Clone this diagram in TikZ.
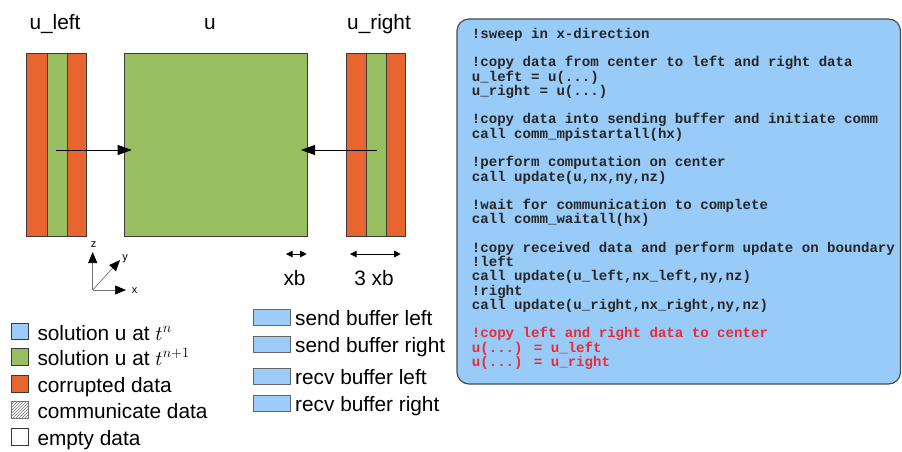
\documentclass[tikz,border=0pt]{standalone}
\usepackage{fontspec}
\setmainfont{Liberation Sans}
\newfontfamily\codefont{Liberation Mono}
\usetikzlibrary{arrows.meta,patterns}
\definecolor{corr}{HTML}{E8652F}
\definecolor{soln}{HTML}{97BF5F}
\definecolor{solnold}{HTML}{9DCCFA}
\definecolor{codebg}{HTML}{99CBF8}
\definecolor{edgec}{HTML}{3A3A3A}
\definecolor{codered}{HTML}{EC2A36}
\tikzset{
  cell/.style={draw=edgec, line width=0.8pt, inner sep=0, outer sep=0, anchor=north west},
  lbl/.style={font=\fontsize{20.8}{24}\selectfont, inner sep=0},
  small/.style={font=\fontsize{11}{13}\selectfont, inner sep=0},
  code/.style={font=\codefont\bfseries\fontsize{14.1}{14.3}\selectfont, anchor=base west, inner sep=0, text=black!85},
  redcode/.style={code, text=codered},
  bigarr/.style={line width=0.8pt, -{Triangle[length=14pt,width=10pt]}},
  darr/.style={line width=0.8pt, {Triangle[length=6.5pt,width=6.5pt]}-{Triangle[length=6.5pt,width=6.5pt]}},
  axarr/.style={line width=0.7pt, draw=black!55, -{Triangle[length=11pt,width=9pt,color=black]}},
  legsq/.style={cell, minimum width=17pt, minimum height=16.5pt},
  bufbox/.style={cell, draw=black!60, fill=solnold, minimum width=37.4pt, minimum height=16.7pt},
  legtxt/.style={lbl, anchor=base west},
}
\newcommand\codeln[3][code]{\node[#1] (c#2) at (471.7,{38.3+(#2-1)*14.27}) {#3};}
\begin{document}
\begin{tikzpicture}[x=1pt,y=-1pt]
\useasboundingbox[fill=white] (0,0) rectangle (902,452);

% labels
\node[lbl, anchor=base] (tl) at (55,29.3) {u\_left};
\node[lbl, anchor=base] (tu) at (210,29.3) {u};
\node[lbl, anchor=base] (tr) at (379,29.3) {u\_right};

% u_left
\node[cell, fill=corr, minimum width=20.6pt, minimum height=182.7pt] (l1) at (26.7,53.3) {};
\node[cell, fill=soln, minimum width=20pt, minimum height=182.7pt] (l2) at (47.3,53.3) {};
\node[cell, fill=corr, minimum width=18.7pt, minimum height=182.7pt] (l3) at (67.3,53.3) {};
% u
\node[cell, fill=soln, minimum width=182.7pt, minimum height=182.7pt] (u) at (124.3,53.3) {};
% u_right
\node[cell, fill=corr, minimum width=20.7pt, minimum height=182.7pt] (r1) at (346,53.3) {};
\node[cell, fill=soln, minimum width=20pt, minimum height=182.7pt] (r2) at (366.7,53.3) {};
\node[cell, fill=corr, minimum width=18.6pt, minimum height=182.7pt] (r3) at (386.7,53.3) {};

% arrows
\coordinate (las) at (56,150);
\coordinate (lae) at (131.7,150);
\coordinate (ras) at (376.7,150);
\coordinate (rae) at (301,150);
\draw[bigarr] (las) -- (lae);
\draw[bigarr] (ras) -- (rae);

% xb markers
\coordinate (xb1) at (286,254);
\coordinate (xb2) at (306.7,254);
\coordinate (xc1) at (350,254);
\coordinate (xc2) at (400.7,254);
\draw[darr] (xb1) -- (xb2);
\draw[darr] (xc1) -- (xc2);
\node[lbl, anchor=base] (xbt) at (294.5,285) {xb};
\node[lbl, anchor=base] (xct) at (374,285) {3 xb};

% axes
\coordinate (O) at (92.7,290);
\coordinate (Z) at (92.7,252);
\coordinate (Y) at (120,260);
\coordinate (X) at (126,290);
\draw[axarr] (O) -- (Z);
\draw[axarr] (O) -- (Y);
\draw[axarr] (O) -- (X);
\node[small] (zt) at (93.5,245) {z};
\node[small] (yt) at (125,259) {y};
\node[small] (xt) at (134.5,291) {x};

% legend
\node[legsq, fill=solnold] (s1) at (11,323) {};
\node[legsq, fill=soln] (s2) at (11,348.5) {};
\node[legsq, fill=corr] (s3) at (11,375.5) {};
\node[legsq, draw=black!55, pattern=north east lines, pattern color=black!55] (s4) at (11,401.5) {};
\node[legsq, fill=white] (s5) at (11,428.5) {};
\node[legtxt] (t1) at (37.3,340) {solution u at $t^n$};
\node[legtxt] (t2) at (37.3,365.5) {solution u at $t^{n+1}$};
\node[legtxt] (t3) at (37.3,392) {corrupted data};
\node[legtxt] (t4) at (37.3,418.3) {communicate data};
\node[legtxt] (t5) at (37.3,445) {empty data};

% buffers
\node[bufbox] (b1) at (253.3,309) {};
\node[bufbox] (b2) at (253.3,336) {};
\node[bufbox] (b3) at (253.3,368) {};
\node[bufbox] (b4) at (253.3,395) {};
\node[legtxt] (bt1) at (295,325.5) {send buffer left};
\node[legtxt] (bt2) at (295,352.5) {send buffer right};
\node[legtxt] (bt3) at (295,384) {recv buffer left};
\node[legtxt] (bt4) at (295,411) {recv buffer right};

% code box
\draw[fill=codebg, draw=black!70, line width=1.2pt, rounded corners=12pt] (457,19) rectangle (900.5,384);
\codeln{1}{!sweep in x-direction}
\codeln{3}{!copy data from center to left and right data}
\codeln{4}{u\_left = u(...)}
\codeln{5}{u\_right = u(...)}
\codeln{7}{!copy data into sending buffer and initiate comm}
\codeln{8}{call comm\_mpistartall(hx)}
\codeln{10}{!perform computation on center}
\codeln{11}{call update(u,nx,ny,nz)}
\codeln{13}{!wait for communication to complete}
\codeln{14}{call comm\_waitall(hx)}
\codeln{16}{!copy received data and perform update on boundary}
\codeln{17}{!left}
\codeln{18}{call update(u\_left,nx\_left,ny,nz)}
\codeln{19}{!right}
\codeln{20}{call update(u\_right,nx\_right,ny,nz)}
\codeln[redcode]{22}{!copy left and right data to center}
\codeln[redcode]{23}{u(...) = u\_left}
\codeln[redcode]{24}{u(...) = u\_right}
\end{tikzpicture}
\end{document}
